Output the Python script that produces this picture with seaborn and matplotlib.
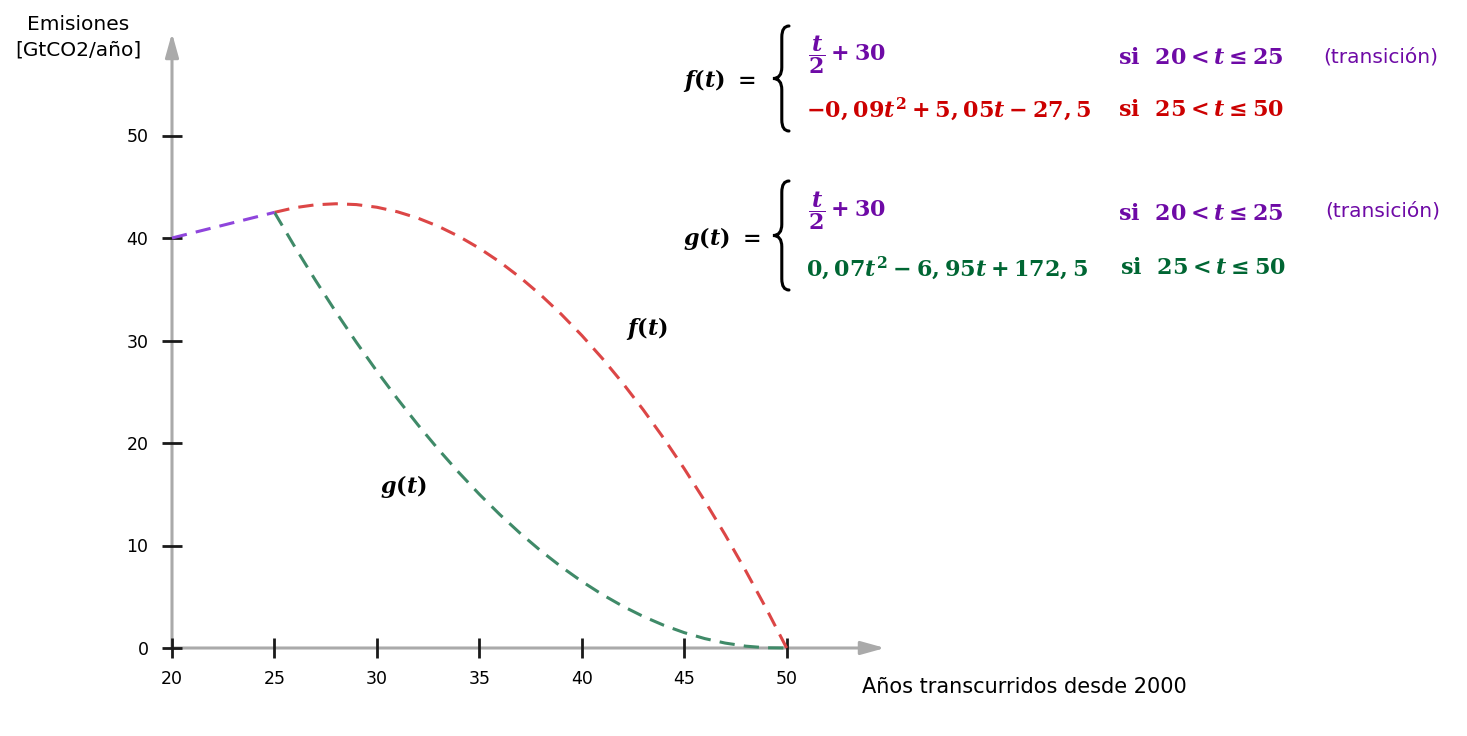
import numpy as np
import pandas as pd
import matplotlib
matplotlib.use("Agg")
import matplotlib.pyplot as plt
from matplotlib.path import Path
from matplotlib.patches import PathPatch
import seaborn as sns

# data
t_trans = [20, 25]
e_trans = [40.0, 42.5]
t_years = list(range(25, 51))
f_vals = [42.5, 42.96, 43.24, 43.34, 43.26, 43.0, 42.56, 41.94, 41.14, 40.16,
          39.0, 37.66, 36.14, 34.44, 32.56, 30.5, 28.26, 25.84, 23.24, 20.46,
          17.5, 14.36, 11.04, 7.54, 3.86, 0.0]
g_vals = [42.5, 39.12, 35.88, 32.78, 29.82, 27.0, 24.32, 21.78, 19.38, 17.12,
          15.0, 13.02, 11.18, 9.48, 7.92, 6.5, 5.22, 4.08, 3.08, 2.22,
          1.5, 0.92, 0.48, 0.18, 0.02, 0.0]
x_ticks = [20, 25, 30, 35, 40, 45, 50]
y_ticks = [0, 10, 20, 30, 40, 50]

sns.set_style("white")
plt.rcParams["font.family"] = ["DejaVu Sans"]
plt.rcParams["text.color"] = "black"
plt.rcParams["mathtext.fontset"] = "custom"
plt.rcParams["mathtext.rm"] = "DejaVu Serif:bold"
plt.rcParams["mathtext.it"] = "DejaVu Serif:italic:bold"
plt.rcParams["mathtext.bf"] = "DejaVu Serif:bold"

W, H = 1467, 736
fig = plt.figure(figsize=(W / 100, H / 100), dpi=100)
ax = fig.add_axes([172 / W, 1 - 648 / H, (885 - 172) / W, (648 - 33) / H])
ax.set_xlim(20, 54.8)
ax.set_ylim(0, 60)

PURPLE_L, RED_L, GREEN_L = "#8f45dc", "#dc4646", "#3f8a68"
PURPLE_T, RED_T, GREEN_T = "#6e0aa6", "#cc0000", "#006633"

df_f = pd.DataFrame({"t": t_years, "e": f_vals})
df_g = pd.DataFrame({"t": t_years, "e": g_vals})
df_tr = pd.DataFrame({"t": t_trans, "e": e_trans})

for d, c in [(df_f, RED_L), (df_g, GREEN_L), (df_tr, PURPLE_L)]:
    sns.lineplot(data=d, x="t", y="e", color=c, lw=2.2, ax=ax,
                 linestyle="--", dashes=False, clip_on=False)
for ln in ax.lines:
    ln.set_dashes((5, 3))

# axes drawn as grey arrows
for s in ax.spines.values():
    s.set_visible(False)
arr = dict(arrowstyle="-|>,head_length=0.72,head_width=0.2", color="#aaaaaa",
           lw=2.2, mutation_scale=20, shrinkA=0, shrinkB=0)
ax.annotate("", xy=(54.8, 0), xytext=(20, 0), arrowprops=arr, annotation_clip=False, zorder=0)
ax.annotate("", xy=(20, 60), xytext=(20, 0), arrowprops=arr, annotation_clip=False, zorder=0)

ax.set_xticks(x_ticks)
ax.set_yticks(y_ticks)
ax.tick_params(bottom=True, left=True, direction="inout", length=14, width=2,
               color="#1a1a1a", labelcolor="black", labelsize=12.5, pad=9)
ax.tick_params(axis="y", pad=10)
ax.set_xlabel("")
ax.set_ylabel("")
ax.grid(False)

ax.text(43.2, 31.2, r"$f(t)$", fontsize=16, ha="center", va="center")
ax.text(31.3, 15.8, r"$g(t)$", fontsize=16, ha="center", va="center")


def ft(x, y, s, **kw):
    fig.text(x / W, 1 - y / H, s, **kw)


ft(78, 37, "Emisiones\n[GtCO2/año]", fontsize=14.5, ha="center", va="center",
   linespacing=1.45)
ft(862, 687, "Años transcurridos desde 2000", fontsize=15, ha="left", va="center")

fs = 16
# f(t)
ft(683, 80, r"$f(t)\ =$", fontsize=fs, va="center")
ft(808, 55, r"$\dfrac{t}{2} + 30$", fontsize=fs, va="center", color=PURPLE_T)
ft(1118, 57, r"$\mathrm{si}\ \ 20 < t \leq 25$", fontsize=fs, va="center", color=PURPLE_T)
ft(1323, 57, "(transición)", fontsize=14.5, va="center", color=PURPLE_T)
ft(806, 109, r"$-0,09t^2 + 5,05t - 27,5$", fontsize=fs, va="center", color=RED_T)
ft(1118, 109, r"$\mathrm{si}\ \ 25 < t \leq 50$", fontsize=fs, va="center", color=RED_T)
# g(t)
ft(683, 238, r"$g(t)\ =$", fontsize=fs, va="center")
ft(808, 211, r"$\dfrac{t}{2} + 30$", fontsize=fs, va="center", color=PURPLE_T)
ft(1118, 213, r"$\mathrm{si}\ \ 20 < t \leq 25$", fontsize=fs, va="center", color=PURPLE_T)
ft(1325, 211, "(transición)", fontsize=14.5, va="center", color=PURPLE_T)
ft(806, 268, r"$0,07t^2 - 6,95t + 172,5$", fontsize=fs, va="center", color=GREEN_T)
ft(1120, 268, r"$\mathrm{si}\ \ 25 < t \leq 50$", fontsize=fs, va="center", color=GREEN_T)


def brace(x, top, bot, w=16):
    top, bot = H - top, H - bot
    mid = (top + bot) / 2
    xm = x + w * 0.55
    k = w * 0.7
    verts = [(x + w, top), (xm, top), (xm, top - k),
             (xm, mid + k), (xm, mid), (x, mid),
             (xm, mid), (xm, mid - k),
             (xm, bot + k), (xm, bot), (x + w, bot)]
    codes = [Path.MOVETO, Path.CURVE3, Path.CURVE3,
             Path.LINETO, Path.CURVE3, Path.CURVE3,
             Path.CURVE3, Path.CURVE3,
             Path.LINETO, Path.CURVE3, Path.CURVE3]
    verts = [(vx / W, vy / H) for vx, vy in verts]
    fig.add_artist(PathPatch(Path(verts, codes), transform=fig.transFigure,
                             fill=False, lw=2.2, color="black", capstyle="round"))


brace(773, 26, 131)
brace(773, 181, 290)

fig.savefig("out.png", dpi=100)
